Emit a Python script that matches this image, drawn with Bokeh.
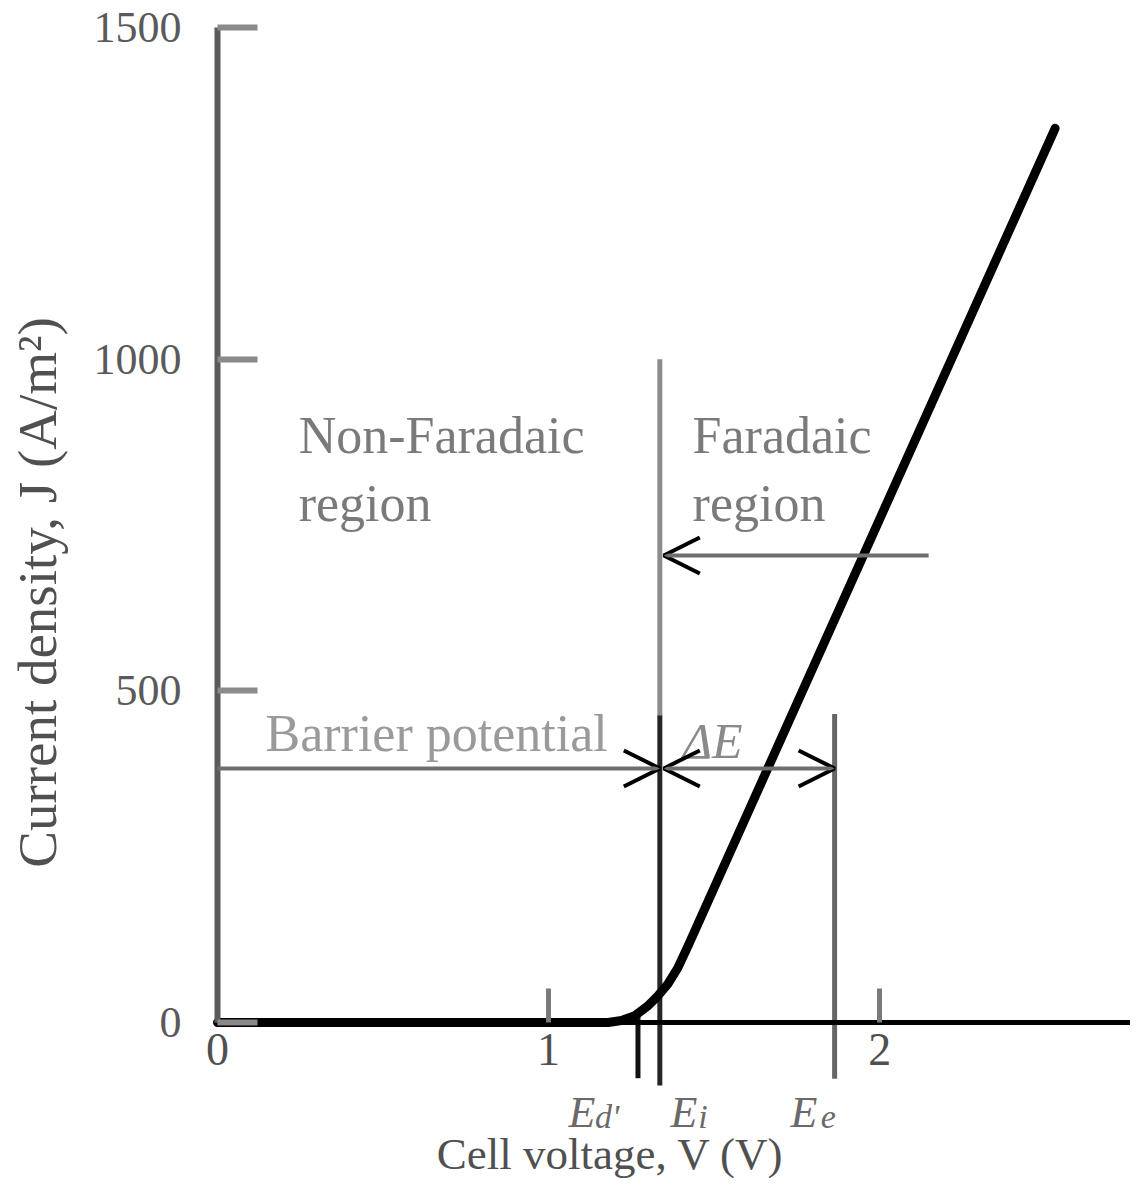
from bokeh.plotting import figure
from bokeh.models import Range1d, LinearAxis, FixedTicker, Arrow, OpenHead
from bokeh.core.properties import value
from bokeh.embed import file_html
from bokeh.resources import INLINE

# ---------------- data ----------------
curve_v = [0.0, 1.10, 1.18, 1.22, 1.26, 1.30, 1.33, 1.36, 1.39, 1.42, 2.53]
curve_j = [0, 0, 0, 3, 10, 25, 40, 58, 82, 114, 1348]

x_ticks = [0, 1, 2]
y_ticks = [0, 500, 1000, 1500]

# characteristic potentials: Ed', Ei, Ee
pot_v = [1.27, 1.336, 1.864]
pot_base = ["E", "E", "E"]
pot_sub = ["d'", "i", "e"]

barrier_j = 383     # level of the barrier / ΔE arrows
faradaic_j = 704    # level of the arrow pointing at Ei
faradaic_arrow_start = 2.148

region_text = ["Non-Faradaic", "region", "Faradaic", "region"]
barrier_text = ["Barrier potential"]
delta_text = ["ΔE"]

x_label = "Cell voltage, V (V)"
y_label = "Current density, J (A/m²)"

SERIF = value("Liberation Serif")

# ---------------- figure ----------------
p = figure(width=1130, height=1178,
           x_range=Range1d(-0.6555, 2.7577), y_range=Range1d(-235.2, 1540.7),
           x_axis_type=None, y_axis_type=None,
           output_backend="svg", toolbar_location=None,
           min_border=0, min_border_left=0, min_border_right=0,
           min_border_top=0, min_border_bottom=0)
p.outline_line_color = None
p.background_fill_color = "white"

# axes
xaxis = LinearAxis(fixed_location=0, bounds=(0, 2.7577), ticker=FixedTicker(ticks=x_ticks))
xaxis.axis_line_color = "black"
xaxis.axis_line_width = 5
xaxis.major_tick_in = 34
xaxis.major_tick_out = 0
xaxis.minor_tick_line_color = None
xaxis.major_tick_line_color = "#7a7a7a"
xaxis.major_tick_line_width = 5
xaxis.major_label_text_font = "Liberation Serif"
xaxis.major_label_text_font_size = "46px"
xaxis.major_label_text_color = "#505050"
xaxis.major_label_standoff = 12
p.add_layout(xaxis, "below")

xlab = LinearAxis(fixed_location=0, bounds=(0, 2.374), ticker=FixedTicker(ticks=[]))
xlab.axis_line_color = None
xlab.major_tick_line_color = None
xlab.minor_tick_line_color = None
xlab.axis_label = x_label
xlab.axis_label_text_font = "Liberation Serif"
xlab.axis_label_text_font_style = "normal"
xlab.axis_label_text_font_size = "45px"
xlab.axis_label_text_color = "#505050"
xlab.axis_label_standoff = 106
p.add_layout(xlab, "below")

yaxis = LinearAxis(fixed_location=0, bounds=(0, 1500), ticker=FixedTicker(ticks=y_ticks))
yaxis.axis_line_color = "#5a5a5a"
yaxis.axis_line_width = 6
yaxis.major_tick_in = 40
yaxis.major_tick_out = 0
yaxis.minor_tick_line_color = None
yaxis.major_tick_line_color = "#8a8a8a"
yaxis.major_tick_line_width = 6
yaxis.major_label_text_font = "Liberation Serif"
yaxis.major_label_text_font_size = "44px"
yaxis.major_label_text_color = "#5a5a5a"
yaxis.major_label_standoff = 36
p.add_layout(yaxis, "left")

ylab = LinearAxis(fixed_location=0, bounds=(0, 1296), ticker=FixedTicker(ticks=[]))
ylab.axis_line_color = None
ylab.major_tick_line_color = None
ylab.minor_tick_line_color = None
ylab.axis_label = y_label
ylab.axis_label_text_font = "Liberation Serif"
ylab.axis_label_text_font_style = "normal"
ylab.axis_label_text_font_size = "55px"
ylab.axis_label_text_color = "#505050"
ylab.axis_label_standoff = 150
p.add_layout(ylab, "left")

# vertical potential markers
p.segment(x0=[pot_v[0]], y0=[15], x1=[pot_v[0]], y1=[-84], line_color="#111111", line_width=5)
p.segment(x0=[pot_v[1]], y0=[1000], x1=[pot_v[1]], y1=[463], line_color="#8c8c8c", line_width=5)
p.segment(x0=[pot_v[1]], y0=[463], x1=[pot_v[1]], y1=[-95], line_color="#262626", line_width=5)
p.segment(x0=[pot_v[2]], y0=[465], x1=[pot_v[2]], y1=[-85], line_color="#666666", line_width=5)

# arrows
ARROW_COL = "#6e6e6e"
def head():
    return OpenHead(size=36, line_color="black", line_width=4)

p.add_layout(Arrow(end=head(), x_start=0, y_start=barrier_j, x_end=pot_v[1], y_end=barrier_j,
                   line_color=ARROW_COL, line_width=4))
p.add_layout(Arrow(start=head(), end=head(), x_start=pot_v[1] + 0.012, y_start=barrier_j,
                   x_end=pot_v[2], y_end=barrier_j, line_color=ARROW_COL, line_width=4))
p.add_layout(Arrow(end=head(), x_start=faradaic_arrow_start, y_start=faradaic_j,
                   x_end=pot_v[1] + 0.012, y_end=faradaic_j, line_color=ARROW_COL, line_width=4))

# curve
p.line(curve_v, curve_j, line_color="black", line_width=9, line_join="round", line_cap="round")

# region texts
p.text(x=[0.245, 0.245, 1.435, 1.435], y=[885, 782, 885, 782], text=region_text,
       text_font=SERIF, text_font_size="52px", text_color="#7a7a7a",
       text_align="left", text_baseline="alphabetic")
p.text(x=[0.145], y=[436], text=barrier_text,
       text_font=SERIF, text_font_size="52px", text_color="#9a9a9a",
       text_align="left", text_baseline="alphabetic")
p.text(x=[1.405], y=[425], text=delta_text,
       text_font=SERIF, text_font_size="50px", text_font_style="italic", text_color="#8a8a8a",
       text_align="left", text_baseline="alphabetic")

# potential labels
p.text(x=[1.060, 1.368, 1.731], y=[-135, -135, -135], text=pot_base,
       text_font=SERIF, text_font_size="44px", text_font_style="italic", text_color="#6a6a6a",
       text_align="left", text_baseline="alphabetic")
p.text(x=[1.140, 1.452, 1.822], y=[-142, -142, -142], text=pot_sub,
       text_font=SERIF, text_font_size="34px", text_font_style="italic", text_color="#6a6a6a",
       text_align="left", text_baseline="alphabetic")

open("out.html", "w").write(file_html(p, INLINE))
